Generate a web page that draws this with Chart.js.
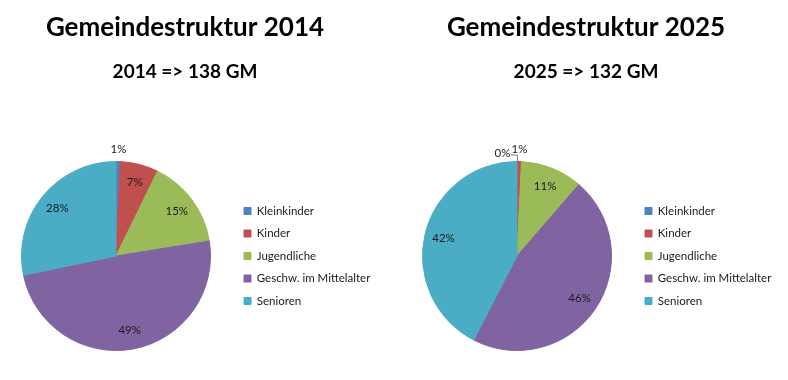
<!DOCTYPE html>
<html><head><meta charset="utf-8">
<script src="https://cdn.jsdelivr.net/npm/chart.js@4.4.1/dist/chart.umd.min.js"></script>
<style>
html,body{margin:0;padding:0;background:#fff;width:788px;height:380px;overflow:hidden;position:relative}
#c1{position:absolute;left:-10px;top:0}
#c2{position:absolute;left:394px;top:0}
</style></head><body>
<canvas id="c1" width="404" height="380"></canvas>
<canvas id="c2" width="394" height="380"></canvas>
<script>
const categories = ['Kleinkinder', 'Kinder', 'Jugendliche', 'Geschw. im Mittelalter', 'Senioren'];
const values2014 = [1, 9, 21, 68, 39];
const values2025 = [0, 1, 14, 61, 56];
const titles = ['Gemeindestruktur 2014', 'Gemeindestruktur 2025'];
const subtitles = ['2014 => 138 GM', '2025 => 132 GM'];
const colors = ['#4F81BD', '#C0504D', '#9BBB59', '#8064A2', '#4BACC6'];

const pctLabels = {
  id: 'pctLabels',
  afterDatasetsDraw(chart) {
    const ctx = chart.ctx;
    const ds = chart.data.datasets[0];
    const meta = chart.getDatasetMeta(0);
    const total = ds.data.reduce((a, b) => a + b, 0);
    ctx.save();
    ctx.font = '11.5px Lato';
    ctx.fillStyle = '#1a1a1a';
    ctx.textAlign = 'center';
    ctx.textBaseline = 'middle';
    meta.data.forEach((arc, i) => {
      const p = arc.getProps(['x', 'y', 'startAngle', 'endAngle', 'outerRadius'], true);
      const v = ds.data[i];
      const frac = v / total;
      const txt = Math.round(frac * 100) + '%';
      const mid = (p.startAngle + p.endAngle) / 2;
      if (v === 0) {
        const ax = p.x + p.outerRadius * Math.cos(p.startAngle);
        const ay = p.y + p.outerRadius * Math.sin(p.startAngle);
        ctx.fillText(txt, ax - 14.5, ay - 8);
        ctx.strokeStyle = '#7f7f7f';
        ctx.lineWidth = 1;
        ctx.beginPath();
        ctx.moveTo(ax - 6, ay - 6.5);
        ctx.lineTo(ax + 0.5, ay - 6.5);
        ctx.lineTo(ax + 0.5, ay);
        ctx.stroke();
      } else {
        const d = frac < 0.02 ? p.outerRadius + 12 : p.outerRadius * 0.8;
        ctx.fillText(txt, p.x + d * Math.cos(mid), p.y + d * Math.sin(mid));
      }
    });
    ctx.restore();
  }
};

const fixLegendWidth = {
  id: 'fixLegendWidth',
  beforeInit(chart) {
    const orig = chart.legend.fit;
    chart.legend.fit = function () { orig.call(this); this.width = 138; };
  }
};

function makeChart(id, values, title, subtitle, pad) {
  return new Chart(document.getElementById(id), {
    type: 'pie',
    data: {
      labels: categories,
      datasets: [{ data: values, backgroundColor: colors, borderColor: colors, borderWidth: 1 }]
    },
    options: {
      responsive: false,
      animation: false,
      layout: { padding: { left: pad.left, right: pad.right, top: 0, bottom: 29 } },
      plugins: {
        title: { display: true, text: title, color: '#000',
          font: { family: 'Lato', size: 26, weight: 'bold', lineHeight: 1.2 },
          padding: { top: 12.4, bottom: 0 } },
        subtitle: { display: true, text: subtitle, color: '#000',
          font: { family: 'Lato', size: 19, weight: 'bold', lineHeight: 1.2 },
          padding: { top: 17, bottom: 77.6 } },
        legend: { position: 'right', align: 'center', fullSize: false,
          labels: { boxWidth: 7, boxHeight: 7, padding: 11, color: '#1a1a1a',
            font: { family: 'Lato', size: 11.5 } } },
        tooltip: { enabled: false }
      }
    },
    plugins: [pctLabels, fixLegendWidth]
  });
}

makeChart('c1', values2014, titles[0], subtitles[0], { left: 9, right: 23 });
makeChart('c2', values2025, titles[1], subtitles[1], { left: 6, right: 16 });
</script>
</body></html>
